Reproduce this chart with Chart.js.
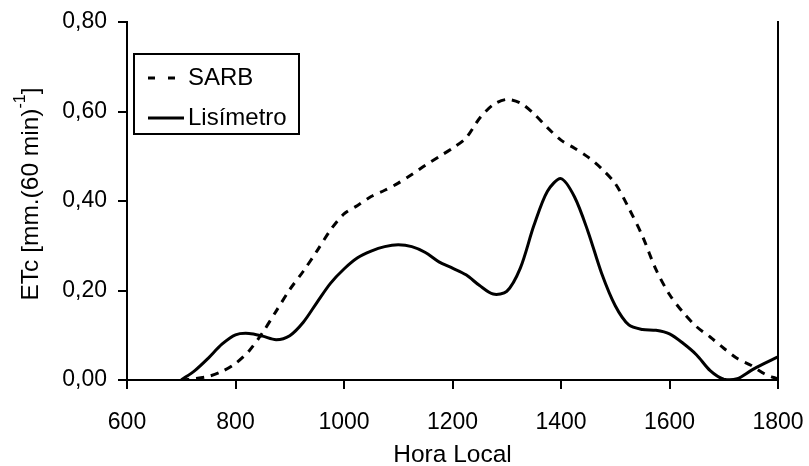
<!DOCTYPE html>
<html>
<head>
<meta charset="utf-8">
<script src="https://cdn.jsdelivr.net/npm/chart.js@4.4.1/dist/chart.umd.min.js"></script>
<style>
  html, body { margin: 0; padding: 0; background: #fff; }
</style>
</head>
<body>
<canvas id="etcChart" width="809" height="466"></canvas>
<script>
// hora local (HHMM) and ETc readings for both methods
const horaLocal = [700, 725, 750, 775, 800, 825, 850, 875, 900, 925, 950, 975,
  1000, 1025, 1050, 1075, 1100, 1125, 1150, 1175, 1200, 1225, 1250, 1275,
  1300, 1325, 1350, 1375, 1400, 1425, 1450, 1475, 1500, 1525, 1550, 1575,
  1600, 1625, 1650, 1675, 1700, 1725, 1750, 1775, 1800];

const sarb = [0, 0.003, 0.008, 0.019, 0.037, 0.065, 0.106, 0.154, 0.202, 0.243, 0.288, 0.335,
  0.371, 0.390, 0.410, 0.424, 0.440, 0.459, 0.480, 0.499, 0.518, 0.541, 0.585, 0.615,
  0.627, 0.619, 0.595, 0.564, 0.536, 0.518, 0.498, 0.472, 0.439, 0.384, 0.322, 0.247,
  0.191, 0.151, 0.119, 0.096, 0.071, 0.048, 0.033, 0.014, 0.002];

const lisimetro = [0, 0.021, 0.049, 0.080, 0.101, 0.104, 0.098, 0.090, 0.099, 0.129, 0.173, 0.216,
  0.248, 0.273, 0.288, 0.298, 0.302, 0.298, 0.285, 0.264, 0.250, 0.235, 0.211, 0.192,
  0.198, 0.250, 0.345, 0.422, 0.450, 0.409, 0.331, 0.238, 0.166, 0.123, 0.113, 0.111,
  0.103, 0.082, 0.056, 0.021, 0.002, 0.003, 0.021, 0.037, 0.052];

const xTicks = [600, 800, 1000, 1200, 1400, 1600, 1800];
const yTicks = ['0,00', '0,20', '0,40', '0,60', '0,80'];

const FONT = "'Liberation Sans', Arial, sans-serif";
Chart.defaults.font.family = FONT;
Chart.defaults.font.size = 23;
Chart.defaults.color = '#000';

// y axis title has a superscript, so draw it by hand
const yTitlePlugin = {
  id: 'yTitle',
  afterDraw(chart) {
    const { ctx, chartArea } = chart;
    const main = 'ETc [mm.(60 min)', sup = '-1', end = ']';
    ctx.save();
    ctx.translate(31, (chartArea.top + chartArea.bottom) / 2 - 7);
    ctx.rotate(-Math.PI / 2);
    ctx.fillStyle = '#000';
    ctx.textBaseline = 'middle';
    ctx.textAlign = 'left';
    ctx.font = '24.5px ' + FONT;
    const w1 = ctx.measureText(main).width;
    const w3 = ctx.measureText(end).width;
    ctx.font = '16px ' + FONT;
    const w2 = ctx.measureText(sup).width;
    let x = -(w1 + w2 + w3) / 2;
    ctx.font = '24.5px ' + FONT;
    ctx.fillText(main, x, 0);
    x += w1;
    ctx.font = '16px ' + FONT;
    ctx.fillText(sup, x, -10);
    x += w2;
    ctx.font = '24.5px ' + FONT;
    ctx.fillText(end, x, 0);
    ctx.restore();
  }
};

// boxed legend inside the plot, top left
const boxLegendPlugin = {
  id: 'boxLegend',
  afterDraw(chart) {
    const { ctx, chartArea } = chart;
    const left = chartArea.left + 7, top = chartArea.top + 32;
    ctx.save();
    ctx.strokeStyle = '#000';
    ctx.lineWidth = 2;
    ctx.strokeRect(left, top, 165, 80);
    chart.data.datasets.forEach((ds, i) => {
      const y = top + 24 + i * 40;
      ctx.beginPath();
      ctx.lineWidth = ds.borderWidth;
      if (ds.borderDash) {
        ctx.setLineDash([7, 13]);
        ctx.moveTo(left + 14, y);
        ctx.lineTo(left + 41, y);
      } else {
        ctx.setLineDash([]);
        ctx.moveTo(left + 14, y);
        ctx.lineTo(left + 50, y);
      }
      ctx.stroke();
      ctx.setLineDash([]);
      ctx.fillStyle = '#000';
      ctx.font = '24px ' + FONT;
      ctx.textBaseline = 'middle';
      ctx.fillText(ds.label, left + 54, y);
    });
    ctx.restore();
  }
};

const ctx = document.getElementById('etcChart').getContext('2d');

new Chart(ctx, {
  type: 'line',
  data: {
    datasets: [
      {
        label: 'SARB',
        data: horaLocal.map((h, i) => ({ x: h, y: sarb[i] })),
        borderColor: '#000',
        borderWidth: 3,
        borderDash: [8, 7],
        pointRadius: 0,
        tension: 0.3,
        fill: false
      },
      {
        label: 'Lisímetro',
        data: horaLocal.map((h, i) => ({ x: h, y: lisimetro[i] })),
        borderColor: '#000',
        borderWidth: 3,
        pointRadius: 0,
        tension: 0.3,
        fill: false
      }
    ]
  },
  options: {
    responsive: false,
    animation: false,
    layout: { padding: { top: 22, right: 31, left: 0, bottom: 0 } },
    plugins: {
      legend: { display: false },
      tooltip: { enabled: false }
    },
    scales: {
      x: {
        type: 'linear',
        min: 600,
        max: 1800,
        afterFit: (scale) => { scale.height = 86; scale.paddingLeft = 0; scale.paddingRight = 0; },
        ticks: {
          stepSize: 200,
          padding: 20,
          maxRotation: 0,
          callback: (v) => xTicks.includes(v) ? String(v) : ''
        },
        grid: { drawOnChartArea: false, drawTicks: true, tickLength: 9, color: '#000', lineWidth: 2 },
        border: { display: true, color: '#000', width: 2 },
        title: { display: true, text: 'Hora Local', font: { size: 24.5 }, padding: { top: 0, bottom: -4 } }
      },
      y: {
        min: 0,
        max: 0.8,
        afterFit: (scale) => { scale.width = 127; scale.paddingTop = 0; scale.paddingBottom = 0; },
        ticks: {
          stepSize: 0.2,
          padding: 11,
          callback: (v) => yTicks[Math.round(v / 0.2)]
        },
        grid: { drawOnChartArea: false, drawTicks: true, tickLength: 9, color: '#000', lineWidth: 2 },
        border: { display: true, color: '#000', width: 2 }
      },
      y2: {
        type: 'linear',
        position: 'right',
        min: 0,
        max: 0.8,
        afterFit: (scale) => { scale.width = 0; scale.paddingTop = 0; scale.paddingBottom = 0; },
        ticks: { display: false },
        grid: { display: false, drawTicks: false },
        border: { display: true, color: '#000', width: 2 }
      }
    }
  },
  plugins: [yTitlePlugin, boxLegendPlugin]
});
</script>
</body>
</html>
